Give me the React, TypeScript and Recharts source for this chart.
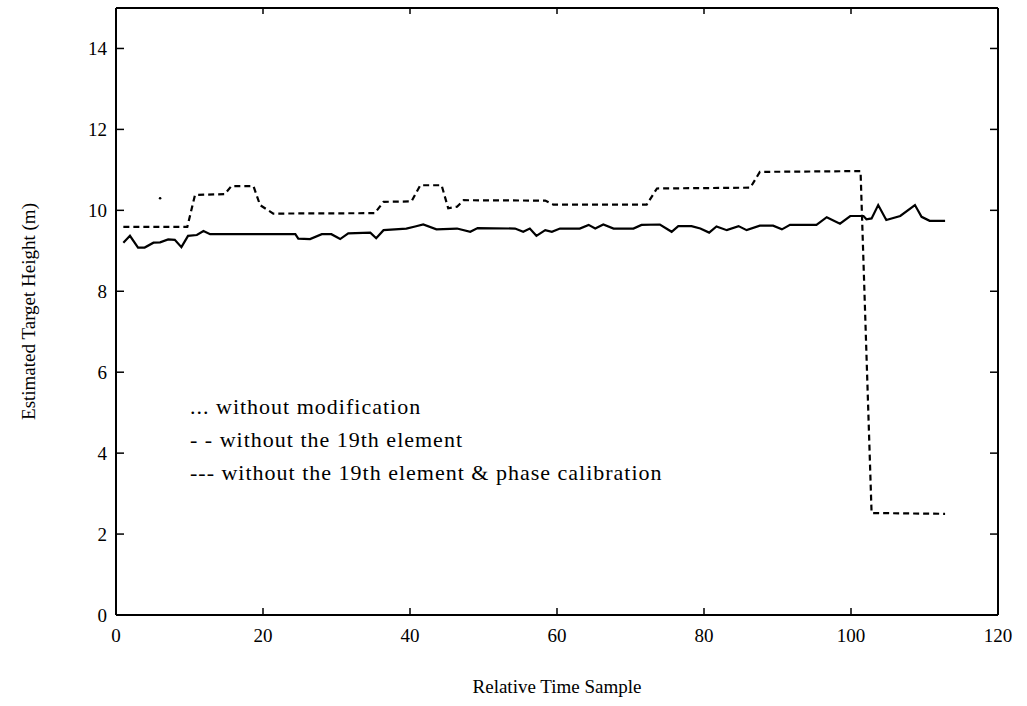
import React from 'react';
import { LineChart, Line, XAxis, YAxis, Legend } from 'recharts';

// solid trace (x = relative time sample, y = height in m)
const solidX = [1, 1.9, 3, 3.9, 5.1, 6, 7.1, 8, 8.9, 9.8, 11, 11.9, 12.8, 24.4, 24.8, 26.4, 28, 29.3, 30.5, 31.6, 34.6, 35.4, 36.4, 39.5, 40.7, 41.8, 43.6, 46.4, 48.2, 49.2, 54.3, 55.4, 56.3, 57.2, 58.4, 59.3, 60.4, 63.1, 64.3, 65.2, 66.3, 67.7, 70.4, 71.5, 74, 75.6, 76.5, 78.3, 79.5, 80.7, 81.7, 83.1, 84.7, 85.8, 87.6, 89.4, 90.6, 91.7, 95.3, 96.7, 98.5, 99.9, 101.7, 102.1, 102.8, 103.7, 104.8, 106.7, 108.7, 109.6, 110.7, 112.8];
const solidY = [9.2, 9.37, 9.08, 9.08, 9.2, 9.21, 9.28, 9.27, 9.09, 9.37, 9.39, 9.49, 9.41, 9.41, 9.3, 9.29, 9.41, 9.41, 9.29, 9.43, 9.45, 9.31, 9.51, 9.55, 9.6, 9.65, 9.53, 9.55, 9.47, 9.56, 9.55, 9.47, 9.55, 9.37, 9.51, 9.47, 9.55, 9.55, 9.64, 9.55, 9.65, 9.55, 9.55, 9.64, 9.65, 9.47, 9.61, 9.61, 9.55, 9.45, 9.6, 9.51, 9.61, 9.51, 9.62, 9.62, 9.53, 9.64, 9.64, 9.83, 9.67, 9.86, 9.86, 9.78, 9.8, 10.13, 9.76, 9.86, 10.13, 9.84, 9.74, 9.74];

// dashed trace
const dashedX = [1, 9.7, 10.75, 14.8, 15.7, 18.7, 19.6, 21.4, 35.2, 36.4, 40.2, 41.4, 44.3, 45.2, 46.4, 47.3, 58.4, 59.5, 72.2, 73.6, 86.3, 87.6, 101.3, 102.8, 112.8];
const dashedY = [9.59, 9.59, 10.38, 10.4, 10.6, 10.6, 10.13, 9.92, 9.93, 10.21, 10.22, 10.62, 10.62, 10.05, 10.09, 10.25, 10.24, 10.14, 10.14, 10.54, 10.56, 10.95, 10.97, 2.52, 2.5];

// dotted trace (only one point shows)
const dottedX = [6];
const dottedY = [10.3];

const xTicks = [0, 20, 40, 60, 80, 100, 120];
const yTicks = [0, 2, 4, 6, 8, 10, 12, 14];

const legendLines = [
  '... without modification',
  '- - without the 19th element',
  '--- without the 19th element & phase calibration',
];

const font = '"Liberation Serif", "Times New Roman", serif';

const solidData = solidX.map((x, i) => ({ x, y: solidY[i] }));
const dashedData = dashedX.map((x, i) => ({ x, y: dashedY[i] }));
const dottedData = dottedX.map((x, i) => ({ x, y: dottedY[i] }));

const tickStyle = { fill: '#000', fontSize: 19, fontFamily: font };
const tickLineStyle = { stroke: '#000', strokeWidth: 1.5 };
const noLabel = () => '';

const renderLegend = () => (
  <div style={{ fontFamily: font, fontSize: 22, letterSpacing: 1, color: '#000', lineHeight: '33px' }}>
    {legendLines.map(t => (
      <div key={t} style={{ whiteSpace: 'pre' }}>{t}</div>
    ))}
  </div>
);

const yLabel = (props: any) => {
  const vb = props.viewBox;
  const cx = vb.x + 35;
  const cy = vb.y + vb.height / 2;
  return (
    <text x={cx} y={cy} transform={`rotate(-90 ${cx} ${cy})`} textAnchor="middle" fontSize={19} fontFamily={font} fill="#000">
      Estimated Target Height (m)
    </text>
  );
};

const xLabel = (props: any) => {
  const vb = props.viewBox;
  return (
    <text x={vb.x + vb.width / 2} y={vb.y + 78} textAnchor="middle" fontSize={19} fontFamily={font} fill="#000">
      Relative Time Sample
    </text>
  );
};

export default function App() {
  return (
    <div style={{ position: 'absolute', left: 0, top: 0, background: '#fff' }}>
      <LineChart width={1027} height={706} margin={{ top: 7, right: 28, bottom: 0, left: 0 }}>
        <XAxis xAxisId="b" type="number" dataKey="x" domain={[0, 120]} ticks={xTicks} height={91}
          tickSize={-7} tickMargin={21} tick={tickStyle} tickLine={tickLineStyle} stroke="#000" strokeWidth={2}
          label={{ content: xLabel }} />
        <XAxis xAxisId="t" orientation="top" type="number" dataKey="x" domain={[0, 120]} ticks={xTicks} height={1}
          tickSize={-6} tickFormatter={noLabel} tickLine={tickLineStyle} stroke="#000" strokeWidth={2} />
        <YAxis yAxisId="l" type="number" domain={[0, 15]} ticks={yTicks} width={116}
          tickSize={-8} tickMargin={17} tick={tickStyle} tickLine={tickLineStyle} stroke="#000" strokeWidth={2}
          label={{ content: yLabel }} />
        <YAxis yAxisId="r" orientation="right" type="number" domain={[0, 15]} ticks={yTicks} width={1}
          tickSize={-8} tickFormatter={noLabel} tickLine={tickLineStyle} stroke="#000" strokeWidth={2} />
        <Legend layout="vertical" verticalAlign="middle" align="center" content={renderLegend}
          wrapperStyle={{ left: 190, top: 390, width: 'auto' }} />
        <Line xAxisId="b" yAxisId="l" data={solidData} dataKey="y" stroke="#000" strokeWidth={2.2}
          dot={false} isAnimationActive={false} />
        <Line xAxisId="b" yAxisId="l" data={dashedData} dataKey="y" stroke="#000" strokeWidth={2.2}
          strokeDasharray="6 4" dot={false} isAnimationActive={false} />
        <Line xAxisId="t" yAxisId="r" data={dottedData} dataKey="y" stroke="#000" strokeWidth={2}
          strokeDasharray="1 4" dot={{ r: 1.3, fill: '#000', stroke: 'none' }} isAnimationActive={false} />
      </LineChart>
    </div>
  );
}
